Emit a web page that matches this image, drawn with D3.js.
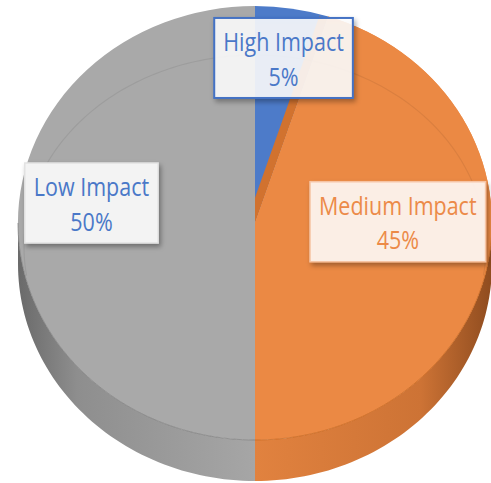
<!DOCTYPE html>
<html lang="en">
<head>
  <meta charset="UTF-8">
  <title>Impact pie</title>
  <style>
    body { margin: 0; background: #fff; }
    .lbl { font-family: "Open Sans", sans-serif; font-size: 21.5px; text-anchor: middle; }
  </style>
  <script src="https://d3js.org/d3.v7.min.js"></script>
</head>
<body>
<svg id="chart"></svg>
<script>
  // data
  var categories = ["High Impact", "Medium Impact", "Low Impact"];
  var values = [5, 45, 50];
  var labels = ["5%", "45%", "50%"];

  var width = 491, height = 483;
  var cx = 255, cy = 223, rx = 237, ry = 217, depth = 41;

  var topColors = ["#4d7bc9", "#eb8944", "#a9a9a9"];
  var textColors = ["#4a78c8", "#ec8a48", "#4a78c8"];
  var boxFill = ["rgba(255,255,255,0.86)", "rgba(255,245,240,0.93)", "#f3f3f3"];
  var boxStroke = ["#4472c4", "#f6c4a4", "#e2e2e2"];
  // label placement: radius factor along mid angle + vertical nudge
  var labelR = [0.77, 0.61, 0.69];
  var labelDy = [0, -22, -20];

  var svg = d3.select('#chart').attr('width', width).attr('height', height);
  var defs = svg.append('defs');

  var sh = defs.append('filter').attr('id', 'shadow')
    .attr('x', '-20%').attr('y', '-20%').attr('width', '150%').attr('height', '160%');
  sh.append('feDropShadow').attr('dx', 2).attr('dy', 3).attr('stdDeviation', 2.5)
    .attr('flood-color', '#000').attr('flood-opacity', 0.35);

  // wall gradients
  var gg = defs.append('linearGradient').attr('id', 'gWallGray')
    .attr('gradientUnits', 'userSpaceOnUse').attr('x1', cx - rx).attr('x2', cx).attr('y1', 0).attr('y2', 0);
  gg.append('stop').attr('offset', 0).attr('stop-color', '#6a6a6a');
  gg.append('stop').attr('offset', 0.25).attr('stop-color', '#8e8e8e');
  gg.append('stop').attr('offset', 1).attr('stop-color', '#a6a6a6');
  var og = defs.append('linearGradient').attr('id', 'gWallOrange')
    .attr('gradientUnits', 'userSpaceOnUse').attr('x1', cx).attr('x2', cx + rx).attr('y1', 0).attr('y2', 0);
  og.append('stop').attr('offset', 0).attr('stop-color', '#e1823f');
  og.append('stop').attr('offset', 0.7).attr('stop-color', '#cd7335');
  og.append('stop').attr('offset', 1).attr('stop-color', '#8f4c1f');
  var wallFill = [null, 'url(#gWallOrange)', 'url(#gWallGray)'];

  var pie = d3.pie().sort(null).value(function(d){ return d; });
  var arcs = pie(values);

  function pt(a, dy) {
    return [cx + rx * Math.sin(a), cy - ry * Math.cos(a) + (dy || 0)];
  }

  // side walls (front half only: angles between PI/2 and 3PI/2)
  var walls = svg.append('g');
  arcs.forEach(function(d, i) {
    var a0 = Math.max(d.startAngle, Math.PI / 2), a1 = Math.min(d.endAngle, 3 * Math.PI / 2);
    if (a1 <= a0) return;
    var top = d3.range(0, 61).map(function(k){ return pt(a0 + (a1 - a0) * k / 60); });
    var bot = d3.range(60, -1, -1).map(function(k){ return pt(a0 + (a1 - a0) * k / 60, depth); });
    walls.append('path')
      .attr('d', d3.line()(top.concat(bot)) + 'Z')
      .attr('fill', wallFill[i]);
  });

  // top face
  var arcGen = d3.arc().innerRadius(0).outerRadius(rx);
  var face = svg.append('g').attr('transform', 'translate(' + cx + ',' + cy + ') scale(1,' + (ry / rx) + ')');

  face.append('clipPath').attr('id', 'clipHigh')
    .append('path').attr('d', arcGen(arcs[0]));

  face.selectAll('path.slice').data(arcs).enter().append('path')
    .attr('class', 'slice')
    .attr('d', arcGen)
    .attr('fill', function(d, i){ return topColors[i]; });

  // darker strip: visible radial wall of the medium slice
  face.append('g').attr('clip-path', 'url(#clipHigh)')
    .append('path')
    .attr('d', arcGen(arcs[1]))
    .attr('transform', 'translate(-9,0)')
    .attr('fill', '#d1722f');
  face.append('path').attr('d', arcGen(arcs[1])).attr('fill', topColors[1]);

  // faint bevel ring across the back part of the face
  var ringA = d3.range(-Math.PI / 2 - 0.15, Math.PI / 2 + 0.15, 0.02).map(function(a){
    return [cx + 231 * Math.sin(a), 247 - 192 * Math.cos(a)];
  });
  svg.append('path').attr('d', d3.line()(ringA))
    .attr('fill', 'none').attr('stroke', 'rgba(0,0,0,0.07)').attr('stroke-width', 1.2);

  // front edge line of top face
  arcs.forEach(function(d, i) {
    var a0 = Math.max(d.startAngle, Math.PI / 2), a1 = Math.min(d.endAngle, 3 * Math.PI / 2);
    if (a1 <= a0) return;
    var edge = d3.range(0, 61).map(function(k){ return pt(a0 + (a1 - a0) * k / 60); });
    svg.append('path').attr('d', d3.line()(edge)).attr('fill', 'none')
      .attr('stroke', i === 1 ? '#c4661f' : '#7c7c7c').attr('stroke-width', 1).attr('opacity', 0.7);
  });

  // data labels
  arcs.forEach(function(d, i) {
    var mid = (d.startAngle + d.endAngle) / 2;
    var lx = cx + rx * labelR[i] * Math.sin(mid);
    var ly = cy - ry * labelR[i] * Math.cos(mid) + labelDy[i];
    var g = svg.append('g').attr('transform', 'translate(' + lx + ',' + ly + ')');
    var rect = g.append('rect').attr('filter', 'url(#shadow)')
      .attr('fill', boxFill[i]).attr('stroke', boxStroke[i]).attr('stroke-width', i === 0 ? 2 : 1.5);
    var t = g.append('g').attr('transform', 'scale(1,1.2)');
    var t1 = t.append('text').attr('class', 'lbl').attr('fill', textColors[i])
      .attr('x', 0).attr('y', -6).text(categories[i]);
    t.append('text').attr('class', 'lbl').attr('fill', textColors[i])
      .attr('x', 0).attr('y', 23).text(labels[i]);
    var w = t1.node().getComputedTextLength() + 18;
    rect.attr('x', -w / 2).attr('y', -40).attr('width', w).attr('height', 80);
  });
</script>
</body>
</html>
